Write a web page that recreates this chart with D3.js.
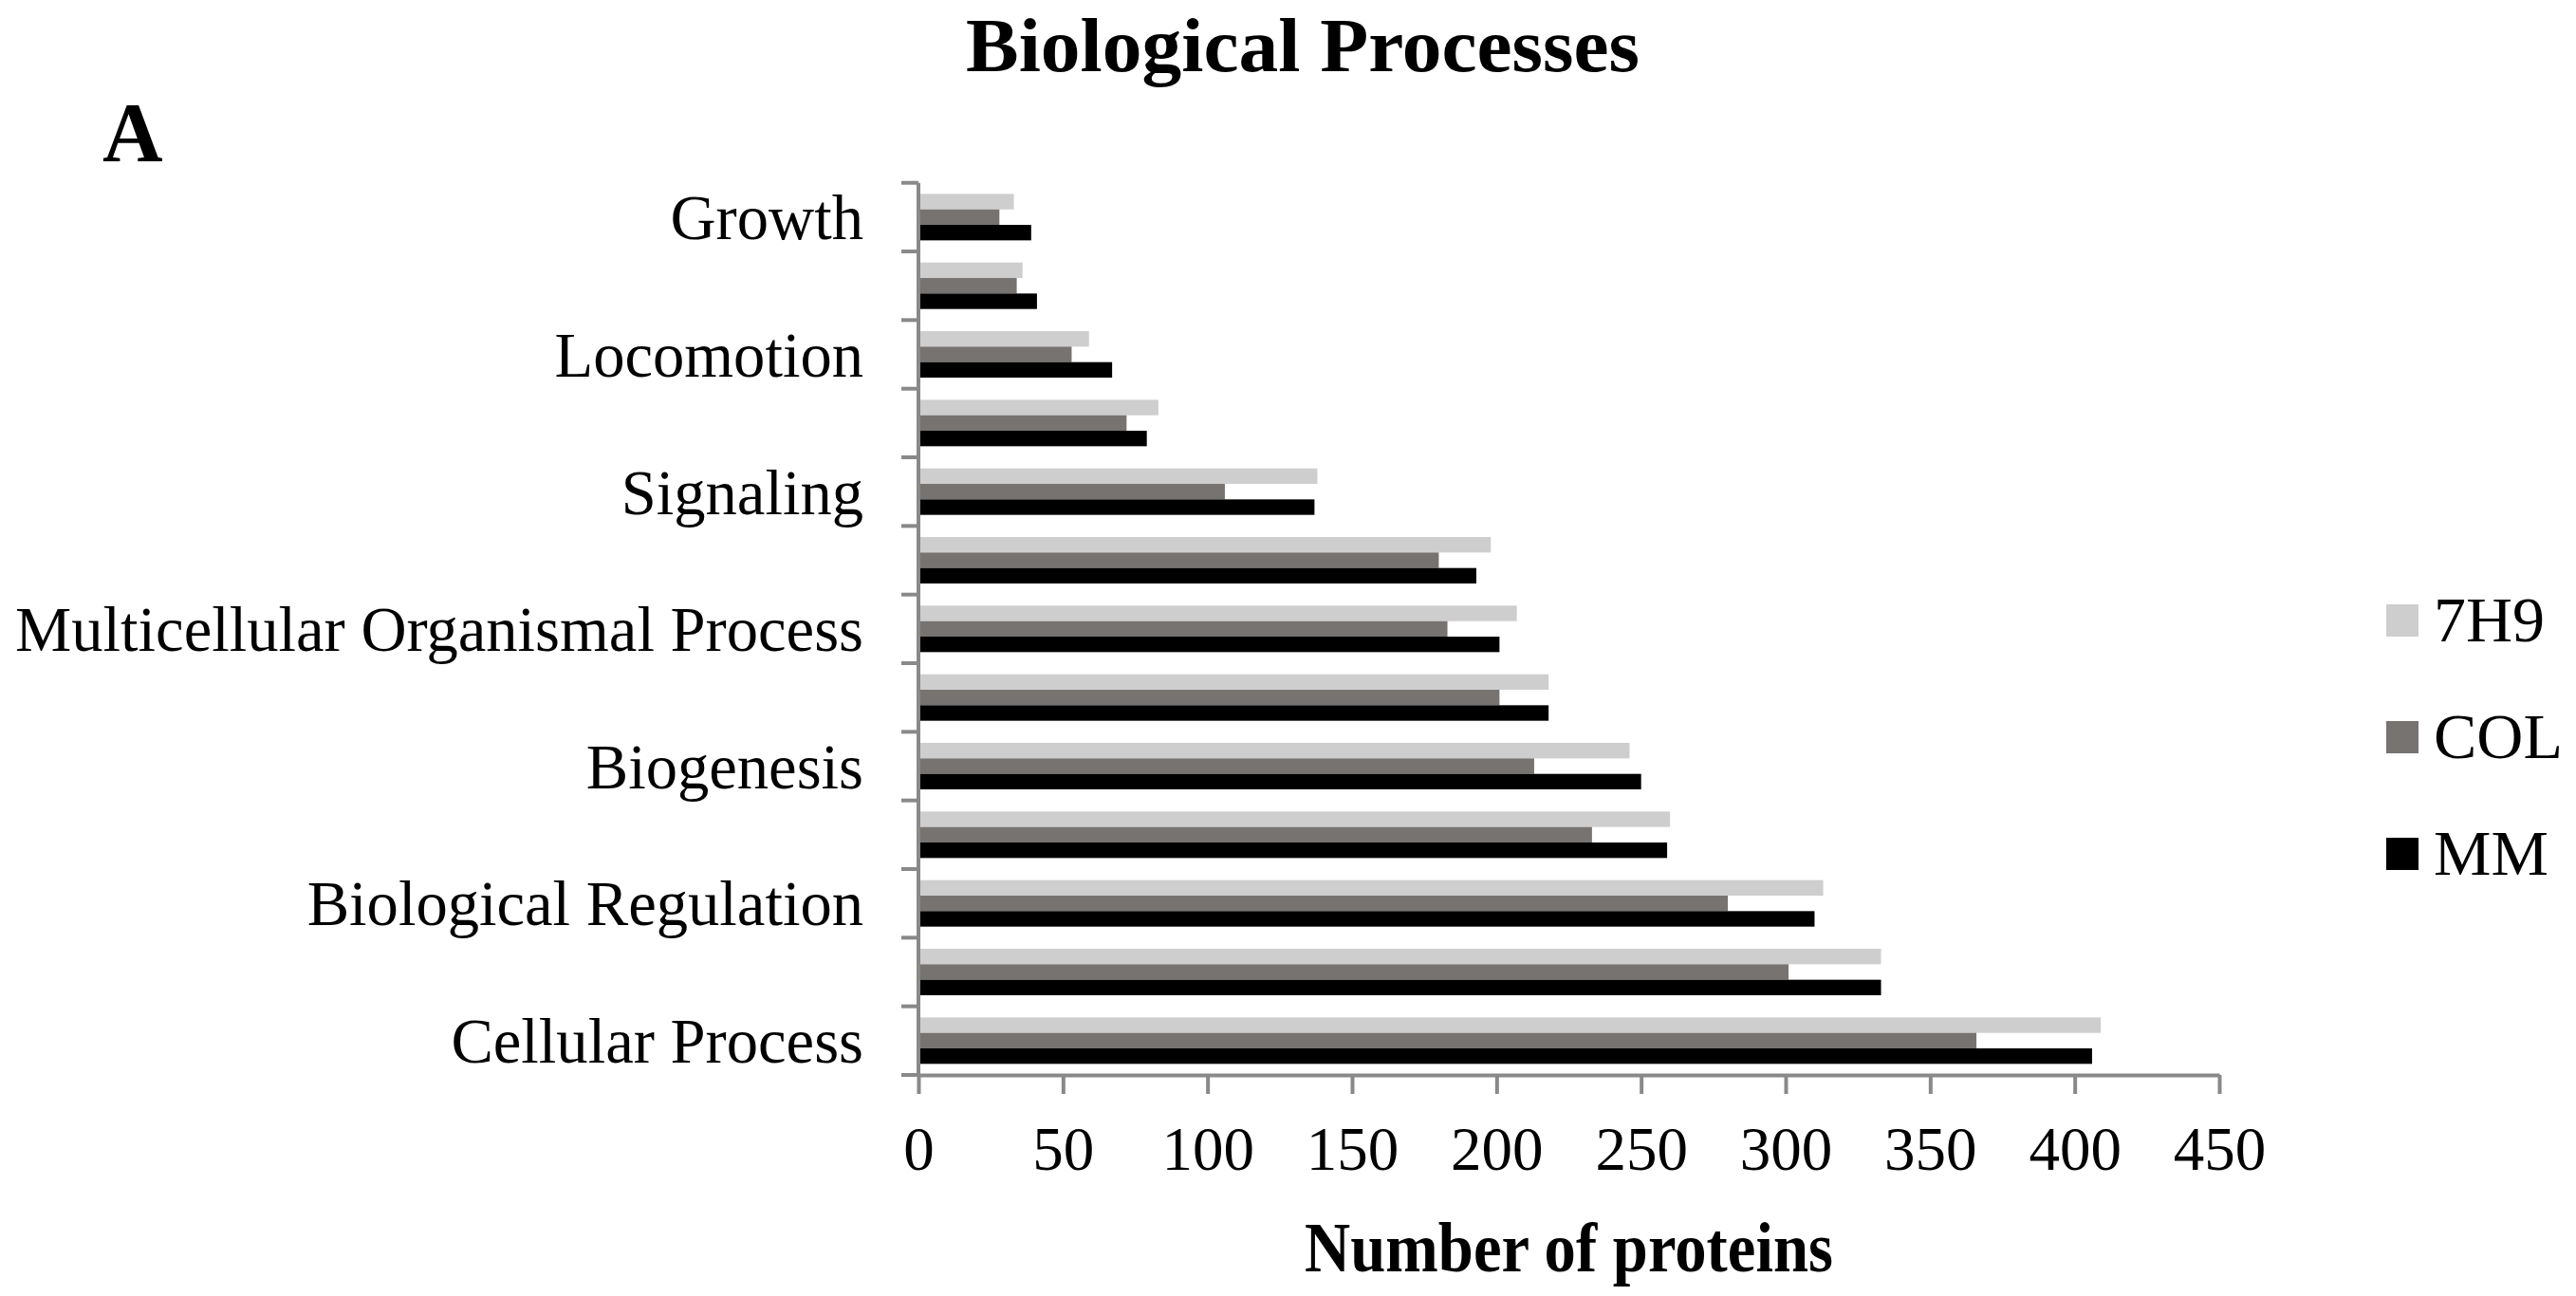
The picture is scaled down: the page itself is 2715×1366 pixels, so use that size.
<!DOCTYPE html>
<html>
<head>
<meta charset="utf-8">
<script src="https://cdn.jsdelivr.net/npm/d3@7"></script>
<style>
  html, body { margin: 0; padding: 0; background: #fff; }
  svg { display: block; font-family: "Liberation Serif", "Times New Roman", serif; }
</style>
</head>
<body>
<svg id="chart" width="2715" height="1366"></svg>
<script>
// ---- data (top to bottom) ----
const categories = ["Growth", "Reproduction", "Locomotion", "Multi-organism Process", "Signaling",
  "Developmental Process", "Multicellular Organismal Process", "Localization", "Biogenesis",
  "Response to Stimulus", "Biological Regulation", "Metabolic Process", "Cellular Process"];
const shownLabels = ["Growth", "Locomotion", "Signaling", "Multicellular Organismal Process",
  "Biogenesis", "Biological Regulation", "Cellular Process"];
const seriesNames = ["7H9", "COL", "MM"];
const values7H9 = [33, 36, 59, 83, 138, 198, 207, 218, 246, 260, 313, 333, 409];
const valuesCOL = [28, 34, 53, 72, 106, 180, 183, 201, 213, 233, 280, 301, 366];
const valuesMM  = [39, 41, 67, 79, 137, 193, 201, 218, 250, 259, 310, 333, 406];
const xTicks = [0, 50, 100, 150, 200, 250, 300, 350, 400, 450];
const colors = ["#cfcecf", "#767371", "#000000"];

(function () {
const seriesValues = [values7H9, valuesCOL, valuesMM];
const rows = categories.map((c, i) => ({
  cat: c,
  vals: seriesNames.map((s, j) => ({ s, v: seriesValues[j][i] }))
}));

const svg = d3.select("#chart");
svg.append("rect").attr("width", 2715).attr("height", 1366).attr("fill", "#fff");

const pLeft = 968, pRight = 2339, pTop = 192.7, pBottom = 1133;
const x = d3.scaleLinear().domain([0, 450]).range([pLeft, pRight]);
const y0 = d3.scaleBand().domain(categories).range([pTop, pBottom]).paddingInner(0).paddingOuter(0);
const y1 = d3.scaleBand().domain(seriesNames).range([0, y0.step()]).paddingInner(0).paddingOuter(0.715);
const color = d3.scaleOrdinal().domain(seriesNames).range(colors);

const axisColor = "#898989";

// bars
const g = svg.append("g");
g.selectAll("g.row").data(rows).join("g")
  .attr("class", "row")
  .attr("transform", d => `translate(0,${y0(d.cat)})`)
  .selectAll("rect").data(d => d.vals).join("rect")
  .attr("x", x(0))
  .attr("y", d => y1(d.s))
  .attr("height", y1.bandwidth())
  .attr("width", d => x(d.v) - x(0))
  .attr("fill", d => color(d.s));

// x axis
const xAxis = d3.axisBottom(x).tickValues(xTicks).tickSize(20).tickSizeOuter(0).tickPadding(34);
const xg = svg.append("g").attr("transform", `translate(0,${pBottom})`).call(xAxis);
xg.attr("font-family", null).attr("font-size", null);
xg.select(".domain").attr("stroke", axisColor).attr("stroke-width", 4);
xg.selectAll(".tick line").attr("stroke", axisColor).attr("stroke-width", 4);
xg.selectAll(".tick text").attr("fill", "#000").style("font-size", "65px")
  .attr("dy", "0.71em");

// y axis line
svg.append("line")
  .attr("x1", x(0)).attr("x2", x(0))
  .attr("y1", y0.range()[0]).attr("y2", y0.range()[1])
  .attr("stroke", axisColor).attr("stroke-width", 4);

// y ticks at band boundaries
const boundaries = categories.map(c => y0(c)).concat([y0.range()[1]]);
svg.append("g").selectAll("line").data(boundaries).join("line")
  .attr("x1", x(0) - 18).attr("x2", x(0))
  .attr("y1", d => d).attr("y2", d => d)
  .attr("stroke", axisColor).attr("stroke-width", 4);

// y labels (every other category)
const yAxis = d3.axisLeft(y0).tickSize(0).tickPadding(0)
  .tickFormat(d => shownLabels.includes(d) ? d : "");
const yg = svg.append("g").attr("transform", `translate(${x(0) - 58},0)`).call(yAxis);
yg.attr("font-family", null).attr("font-size", null);
yg.select(".domain").remove();
yg.selectAll(".tick text").attr("fill", "#000").style("font-size", "66.6px").attr("dy", "0.35em");

// titles
svg.append("text").attr("x", 1373).attr("y", 75).attr("text-anchor", "middle")
  .attr("textLength", 710).attr("lengthAdjust", "spacingAndGlyphs")
  .style("font-size", "81px").style("font-weight", "bold").text("Biological Processes");
svg.append("text").attr("x", 108).attr("y", 169)
  .style("font-size", "88px").style("font-weight", "bold").text("A");
svg.append("text").attr("x", 1375).attr("y", 1340)
  .attr("textLength", 557).attr("lengthAdjust", "spacingAndGlyphs")
  .style("font-size", "73px").style("font-weight", "bold").text("Number of proteins");

// legend
const legend = svg.append("g").attr("transform", "translate(2515,637)");
const li = legend.selectAll("g").data(seriesNames).join("g")
  .attr("transform", (d, i) => `translate(0,${i * 123})`);
li.append("rect").attr("width", 34).attr("height", 34).attr("fill", d => color(d));
li.append("text").attr("x", 50).attr("y", 39).style("font-size", "68px").text(d => d);
})();
</script>
</body>
</html>
